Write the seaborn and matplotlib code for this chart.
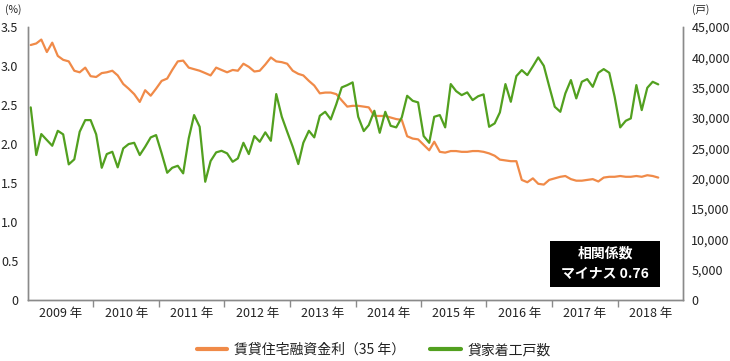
import numpy as np
import pandas as pd
import matplotlib
matplotlib.use("Agg")
import matplotlib.pyplot as plt
from matplotlib.patches import Rectangle
from matplotlib.lines import Line2D
import seaborn as sns

# 賃貸住宅融資金利（35年）, %  (2009-01 .. 2018-08)
rate = [3.27, 3.29, 3.34, 3.18, 3.30, 3.13, 3.08, 3.06, 2.94, 2.92, 2.98, 2.87,
        2.86, 2.91, 2.92, 2.94, 2.88, 2.77, 2.71, 2.64, 2.54, 2.69, 2.62, 2.71,
        2.81, 2.84, 2.95, 3.06, 3.07, 2.98, 2.96, 2.94, 2.91, 2.88, 2.98, 2.95,
        2.92, 2.95, 2.94, 3.03, 2.99, 2.93, 2.94, 3.02, 3.11, 3.06, 3.05, 3.03,
        2.94, 2.90, 2.88, 2.81, 2.75, 2.65, 2.66, 2.66, 2.64, 2.56, 2.48, 2.49,
        2.49, 2.48, 2.47, 2.36, 2.36, 2.36, 2.34, 2.32, 2.31, 2.10, 2.07, 2.06,
        1.99, 1.92, 2.03, 1.90, 1.89, 1.91, 1.91, 1.90, 1.90, 1.91, 1.91, 1.90,
        1.88, 1.85, 1.80, 1.79, 1.78, 1.78, 1.54, 1.51, 1.56, 1.49, 1.48, 1.54,
        1.56, 1.58, 1.59, 1.55, 1.53, 1.53, 1.54, 1.55, 1.52, 1.57, 1.58, 1.58,
        1.59, 1.58, 1.58, 1.59, 1.58, 1.60, 1.59, 1.57]

# 貸家着工戸数, 戸
starts = [31760, 23900, 27360, 26370, 25430, 27900, 27310, 22360, 23190, 27740, 29660, 29660,
          27310, 21800, 24060, 24440, 21870, 25000, 25710, 25920, 23900, 25260, 26810, 27190,
          24180, 20980, 21800, 22130, 20880, 26650, 30490, 28560, 19500, 22910, 24340, 24600,
          24180, 22790, 23350, 25920, 24060, 27030, 26090, 27640, 26250, 33950, 30210, 27740,
          25260, 22410, 25920, 27900, 26810, 30370, 31030, 29780, 32300, 35050, 35430, 35880,
          30210, 27850, 28840, 31200, 27570, 31030, 28720, 28460, 30110, 33670, 32840, 32580,
          27030, 25920, 30210, 30490, 28460, 35600, 34440, 33780, 34230, 32960, 33600, 33900,
          28560, 29120, 30930, 35600, 32680, 36920, 37900, 37080, 38530, 40000, 38610, 35230,
          31860, 31030, 34060, 36260, 33240, 35980, 36420, 35150, 37460, 38070, 37460, 33500,
          28460, 29550, 29940, 35430, 31310, 34990, 35980, 35550]

years = list(range(2009, 2019))
rate_label = "賃貸住宅融資金利（35 年）"
starts_label = "貸家着工戸数"

orange = "#F08A48"
green = "#52A01F"
spine_col = "#8a8a8a"
text_col = "#222222"

sns.set_theme(style="white")
plt.rcParams['font.family'] = ['Noto Sans CJK JP', 'DejaVu Sans']

months = pd.date_range("2009-01-01", periods=len(rate), freq="MS") + pd.Timedelta(days=15)
df = pd.DataFrame({"month": months, "rate": rate, "starts": starts})

fig, ax = plt.subplots(figsize=(7.3, 3.61), dpi=100)
fig.subplots_adjust(left=0.0384, right=0.9356, bottom=0.169, top=0.925)
ax2 = ax.twinx()

sns.lineplot(data=df, x="month", y="rate", ax=ax, color=orange, lw=1.6)
sns.lineplot(data=df, x="month", y="starts", ax=ax2, color=green, lw=1.6)

# x axis: year boundaries as ticks, year names in the middle
ax.set_xlim(pd.Timestamp("2009-01-01"), pd.Timestamp("2019-01-01"))
ax.set_xticks([pd.Timestamp(f"{y}-01-01") for y in years[1:]])
ax.set_xticklabels([])
ax.set_xticks([pd.Timestamp(f"{y}-07-02") for y in years], minor=True)
ax.set_xticklabels([f"{y} 年" for y in years], minor=True)
ax.tick_params(axis="x", which="major", length=5, width=1, color=spine_col, direction="out", bottom=True)
ax.tick_params(axis="x", which="minor", length=0, pad=5, labelsize=9, labelcolor=text_col, bottom=True)

ax.set_ylim(0, 3.5)
ax.set_yticks(np.arange(0, 3.51, 0.5))
ax.set_yticklabels(["0"] + [f"{v:.1f}" for v in np.arange(0.5, 3.51, 0.5)])
ax.tick_params(axis="y", length=0, pad=7, labelsize=9, labelcolor=text_col)

ax2.set_ylim(0, 45000)
ax2.set_yticks(np.arange(0, 45001, 5000))
ax2.set_yticklabels(["0"] + [f"{int(v):,}" for v in np.arange(5000, 45001, 5000)])
ax2.tick_params(axis="y", length=0, pad=6, labelsize=9, labelcolor=text_col)

for a in (ax, ax2):
    a.set_xlabel("")
    a.set_ylabel("")
    a.spines["top"].set_visible(False)
    for s in ("left", "right", "bottom"):
        a.spines[s].set_color(spine_col)
        a.spines[s].set_linewidth(1)

fig.text(5 / 730, 1 - 10 / 361, "(%)", fontsize=7.5, color=text_col, va="center", ha="left")
fig.text(692 / 730, 1 - 10 / 361, "(戸)", fontsize=7.5, color=text_col, va="center", ha="left")

# correlation box
ax2.add_patch(Rectangle((0.797, 0.048), 0.168, 0.168, transform=ax2.transAxes,
                        facecolor="black", edgecolor="none", zorder=5))
ax2.text(0.881, 0.172, "相関係数", transform=ax2.transAxes, ha="center", va="center",
         color="white", fontsize=10, fontweight="bold", zorder=6)
ax2.text(0.881, 0.095, "マイナス 0.76", transform=ax2.transAxes, ha="center", va="center",
         color="white", fontsize=10, fontweight="bold", zorder=6)

handles = [Line2D([0], [0], color=orange, lw=3), Line2D([0], [0], color=green, lw=3)]
fig.legend(handles, [rate_label, starts_label], loc="center", bbox_to_anchor=(0.512, 0.03),
           ncol=2, frameon=False, fontsize=10, handlelength=2.2, handletextpad=0.5,
           columnspacing=1.8, labelcolor=text_col)

fig.savefig("out.png", dpi=100)
